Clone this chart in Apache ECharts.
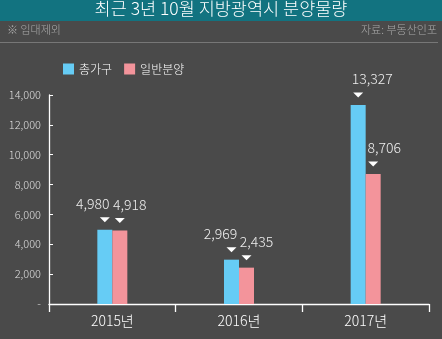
<!DOCTYPE html>
<html>
<head>
<meta charset="utf-8">
<script src="https://cdn.jsdelivr.net/npm/echarts@6/dist/echarts.min.js"></script>
<style>
html,body{margin:0;padding:0;background:#4a4a4a;}
#c{width:442px;height:339px;}
</style>
</head>
<body>
<div id="c"></div>
<script>
var categories = ['2015년', '2016년', '2017년'];
var totalUnits = [4980, 2969, 13327];
var generalSale = [4918, 2435, 8706];
var seriesNames = ['총가구', '일반분양'];
var yTicks = [0, 2000, 4000, 6000, 8000, 10000, 12000, 14000];

var FONT = '"Noto Sans CJK KR", "Noto Sans", sans-serif';
var BLUE = '#66ccf5';
var PINK = '#f3949b';
var blueShift = [-12, -11, 14];
var pinkShift = [10, 10, 11];

function fmt(v) { return v.toLocaleString('en-US'); }

function barSeries(name, vals, color, shifts) {
  return {
    name: name,
    type: 'bar',
    barWidth: 15,
    barGap: '0%',
    itemStyle: { color: color },
    data: vals.map(function (v, i) {
      return { value: v, label: { offset: [shifts[i], 0] } };
    }),
    label: {
      show: true,
      position: 'top',
      distance: 19,
      color: '#eeeeee',
      fontFamily: FONT,
      fontWeight: 300,
      fontSize: 14,
      formatter: function (p) { return fmt(p.value); }
    },
    markPoint: {
      silent: true,
      symbol: 'path://M0,0 L10,0 L5,6 Z',
      symbolSize: [10, 5],
      symbolOffset: [0, -10],
      itemStyle: { color: '#ffffff' },
      label: { show: false },
      data: vals.map(function (v, i) {
        return { coord: [categories[i], v] };
      })
    }
  };
}

var chart = echarts.init(document.getElementById('c'));
chart.setOption({
  backgroundColor: '#4a4a4a',
  animation: false,
  graphic: [
    { type: 'rect', left: 0, top: 0, shape: { width: 442, height: 21 }, style: { fill: '#127380' } },
    { type: 'text', left: 'center', top: 0, style: { text: '최근 3년 10월 지방광역시 분양물량', fill: '#ffffff', font: '300 17.5px ' + FONT } },
    { type: 'text', left: 7, top: 24, style: { text: '※ 임대제외', fill: '#aaaaaa', font: '300 11px ' + FONT } },
    { type: 'text', right: 5, top: 24, style: { text: '자료: 부동산인포', fill: '#aaaaaa', font: '300 11px ' + FONT } },
    { type: 'line', shape: { x1: 0, y1: 42.5, x2: 438, y2: 42.5 }, style: { stroke: '#777777', lineWidth: 1 } }
  ],
  legend: {
    left: 58, top: 58,
    itemWidth: 11, itemHeight: 11, itemGap: 12,
    icon: 'rect',
    textStyle: { color: '#ffffff', fontSize: 12, fontWeight: 300, fontFamily: FONT },
    data: seriesNames
  },
  grid: { left: 49, right: 13, top: 95, bottom: 35, containLabel: false },
  xAxis: {
    type: 'category',
    data: categories,
    axisLine: { lineStyle: { color: '#ffffff', width: 1.3 } },
    axisTick: { show: true, length: 8, lineStyle: { color: '#ffffff', width: 1.3 } },
    axisLabel: { color: '#ffffff', fontSize: 14, fontWeight: 300, fontFamily: FONT, margin: 10 }
  },
  yAxis: {
    type: 'value',
    min: yTicks[0],
    max: yTicks[yTicks.length - 1],
    interval: yTicks[1] - yTicks[0],
    splitLine: { show: false },
    axisLine: { show: true, lineStyle: { color: '#ffffff', width: 1.3 } },
    axisTick: { show: true, inside: true, length: 4, lineStyle: { color: '#ffffff' } },
    axisLabel: {
      color: '#dddddd', fontSize: 11, fontWeight: 300, fontFamily: FONT, margin: 8,
      formatter: function (v) { return v === 0 ? '-' : fmt(v); }
    }
  },
  series: [
    barSeries(seriesNames[0], totalUnits, BLUE, blueShift),
    barSeries(seriesNames[1], generalSale, PINK, pinkShift)
  ]
});
</script>
</body>
</html>
